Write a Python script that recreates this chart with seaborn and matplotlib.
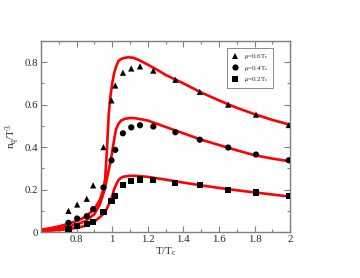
import numpy as np
import pandas as pd
import matplotlib
matplotlib.use("Agg")
import matplotlib.pyplot as plt
from matplotlib.ticker import MultipleLocator, FixedLocator
import seaborn as sns

# ---- data ----
t_pts = [0.754, 0.803, 0.857, 0.893, 0.951, 0.996, 1.017, 1.06, 1.107, 1.156,
         1.231, 1.355, 1.492, 1.652, 1.808, 1.992]
n_06 = [0.10, 0.13, 0.157, 0.22, 0.40, 0.62, 0.69, 0.75, 0.77, 0.78,
        0.76, 0.717, 0.66, 0.60, 0.553, 0.504]
n_04 = [0.044, 0.064, 0.075, 0.108, 0.21, 0.338, 0.387, 0.465, 0.493, 0.503,
        0.497, 0.47, 0.435, 0.398, 0.365, 0.338]
n_02 = [0.014, 0.028, 0.038, 0.047, 0.093, 0.148, 0.171, 0.223, 0.242, 0.248,
        0.244, 0.231, 0.222, 0.20, 0.186, 0.171]

t_c06 = [0.6, 0.65, 0.7, 0.75, 0.8, 0.85, 0.9, 0.93, 0.95, 0.96, 0.97, 0.98, 0.99,
         1.0, 1.01, 1.02, 1.035, 1.05, 1.07, 1.09, 1.12, 1.15, 1.2, 1.25, 1.3,
         1.4, 1.5, 1.6, 1.7, 1.8, 1.9, 2.0]
c_06 = [0.012, 0.018, 0.027, 0.038, 0.052, 0.072, 0.11, 0.15, 0.2, 0.25, 0.38,
        0.55, 0.64, 0.70, 0.745, 0.775, 0.805, 0.815, 0.82, 0.823, 0.82, 0.81,
        0.788, 0.765, 0.74, 0.70, 0.657, 0.62, 0.585, 0.555, 0.528, 0.505]

t_c04 = [0.6, 0.65, 0.7, 0.75, 0.8, 0.85, 0.9, 0.93, 0.95, 0.96, 0.97, 0.98, 0.99,
         1.0, 1.01, 1.02, 1.035, 1.05, 1.07, 1.1, 1.13, 1.2, 1.25, 1.3, 1.4,
         1.5, 1.6, 1.7, 1.8, 1.9, 2.0]
c_04 = [0.008, 0.012, 0.018, 0.026, 0.036, 0.052, 0.085, 0.13, 0.18, 0.21, 0.25,
        0.29, 0.33, 0.38, 0.43, 0.48, 0.51, 0.525, 0.533, 0.537, 0.536, 0.525,
        0.51, 0.495, 0.465, 0.435, 0.41, 0.385, 0.362, 0.346, 0.333]

t_c02 = [0.6, 0.65, 0.7, 0.75, 0.8, 0.85, 0.9, 0.93, 0.95, 0.97, 0.98, 0.99, 1.0,
         1.01, 1.02, 1.035, 1.05, 1.07, 1.1, 1.13, 1.2, 1.3, 1.4, 1.5, 1.6,
         1.7, 1.8, 1.9, 2.0]
c_02 = [0.005, 0.007, 0.01, 0.014, 0.02, 0.03, 0.05, 0.07, 0.085, 0.11, 0.13,
        0.15, 0.17, 0.2, 0.22, 0.245, 0.256, 0.262, 0.265, 0.265, 0.26, 0.247,
        0.233, 0.22, 0.208, 0.197, 0.187, 0.177, 0.167]

labels = [r"$\mu$=0.6T$_{\rm c}$", r"$\mu$=0.4T$_{\rm c}$", r"$\mu$=0.2T$_{\rm c}$"]
markers = ["^", "o", "s"]

x_ticks = [0.8, 1.0, 1.2, 1.4, 1.6, 1.8, 2.0]
x_ticklabels = ["0.8", "1", "1.2", "1.4", "1.6", "1.8", "2"]
y_ticks = [0, 0.2, 0.4, 0.6, 0.8]
y_ticklabels = ["0", "0.2", "0.4", "0.6", "0.8"]

# ---- style ----
sns.set_style("ticks")
plt.rcParams["font.family"] = ["Liberation Serif", "DejaVu Serif"]
plt.rcParams["mathtext.fontset"] = "custom"
plt.rcParams["mathtext.rm"] = "Liberation Serif"
plt.rcParams["mathtext.it"] = "Liberation Serif:italic"

fig = plt.figure(figsize=(3.6, 2.78), dpi=100)
ax = fig.add_axes([0.114, 0.165, 0.692, 0.688])

pts = pd.DataFrame({
    "t": t_pts * 3,
    "n": n_06 + n_04 + n_02,
    "series": [labels[0]] * len(t_pts) + [labels[1]] * len(t_pts) + [labels[2]] * len(t_pts),
})
curves = [(t_c06, c_06), (t_c04, c_04), (t_c02, c_02)]
for tc, cc in curves:
    sns.lineplot(x=tc, y=cc, ax=ax, color="#ff0000", lw=1.9, legend=False,
                 estimator=None, sort=False)

sns.scatterplot(data=pts, x="t", y="n", hue="series", style="series",
                markers=dict(zip(labels, markers)),
                palette=dict(zip(labels, ["black"] * 3)),
                s=20, edgecolor="none", ax=ax, zorder=5)

ax.set_xlim(0.6, 2.0)
ax.set_ylim(0, 0.9)
ax.xaxis.set_major_locator(FixedLocator(x_ticks))
ax.set_xticklabels(x_ticklabels)
ax.xaxis.set_minor_locator(MultipleLocator(0.1))
ax.yaxis.set_major_locator(FixedLocator(y_ticks))
ax.set_yticklabels(y_ticklabels)
ax.yaxis.set_minor_locator(MultipleLocator(0.1))

spine_c = "#7f7f7f"
for sp in ax.spines.values():
    sp.set_visible(True)
    sp.set_color(spine_c)
    sp.set_linewidth(1.0)
ax.tick_params(which="both", direction="in", top=True, right=True,
               color=spine_c, width=0.8)
ax.tick_params(which="major", length=4, labelsize=7.8, pad=2)
ax.tick_params(which="minor", length=2)

ax.set_xlabel(r"T/T$_{\rm c}$", fontsize=7.8, labelpad=1)
ax.set_ylabel(r"n$_{\rm q}$/T$^3$", fontsize=7.8, labelpad=2)

leg = ax.legend(loc="upper right", bbox_to_anchor=(0.935, 0.97), fontsize=5,
                frameon=True, fancybox=False, edgecolor="#555555",
                handletextpad=0.6, borderpad=0.6, labelspacing=0.35,
                markerscale=1.0, handlelength=1.3, borderaxespad=0.2)
leg.get_frame().set_linewidth(0.6)

fig.savefig("out.png", dpi=100)
